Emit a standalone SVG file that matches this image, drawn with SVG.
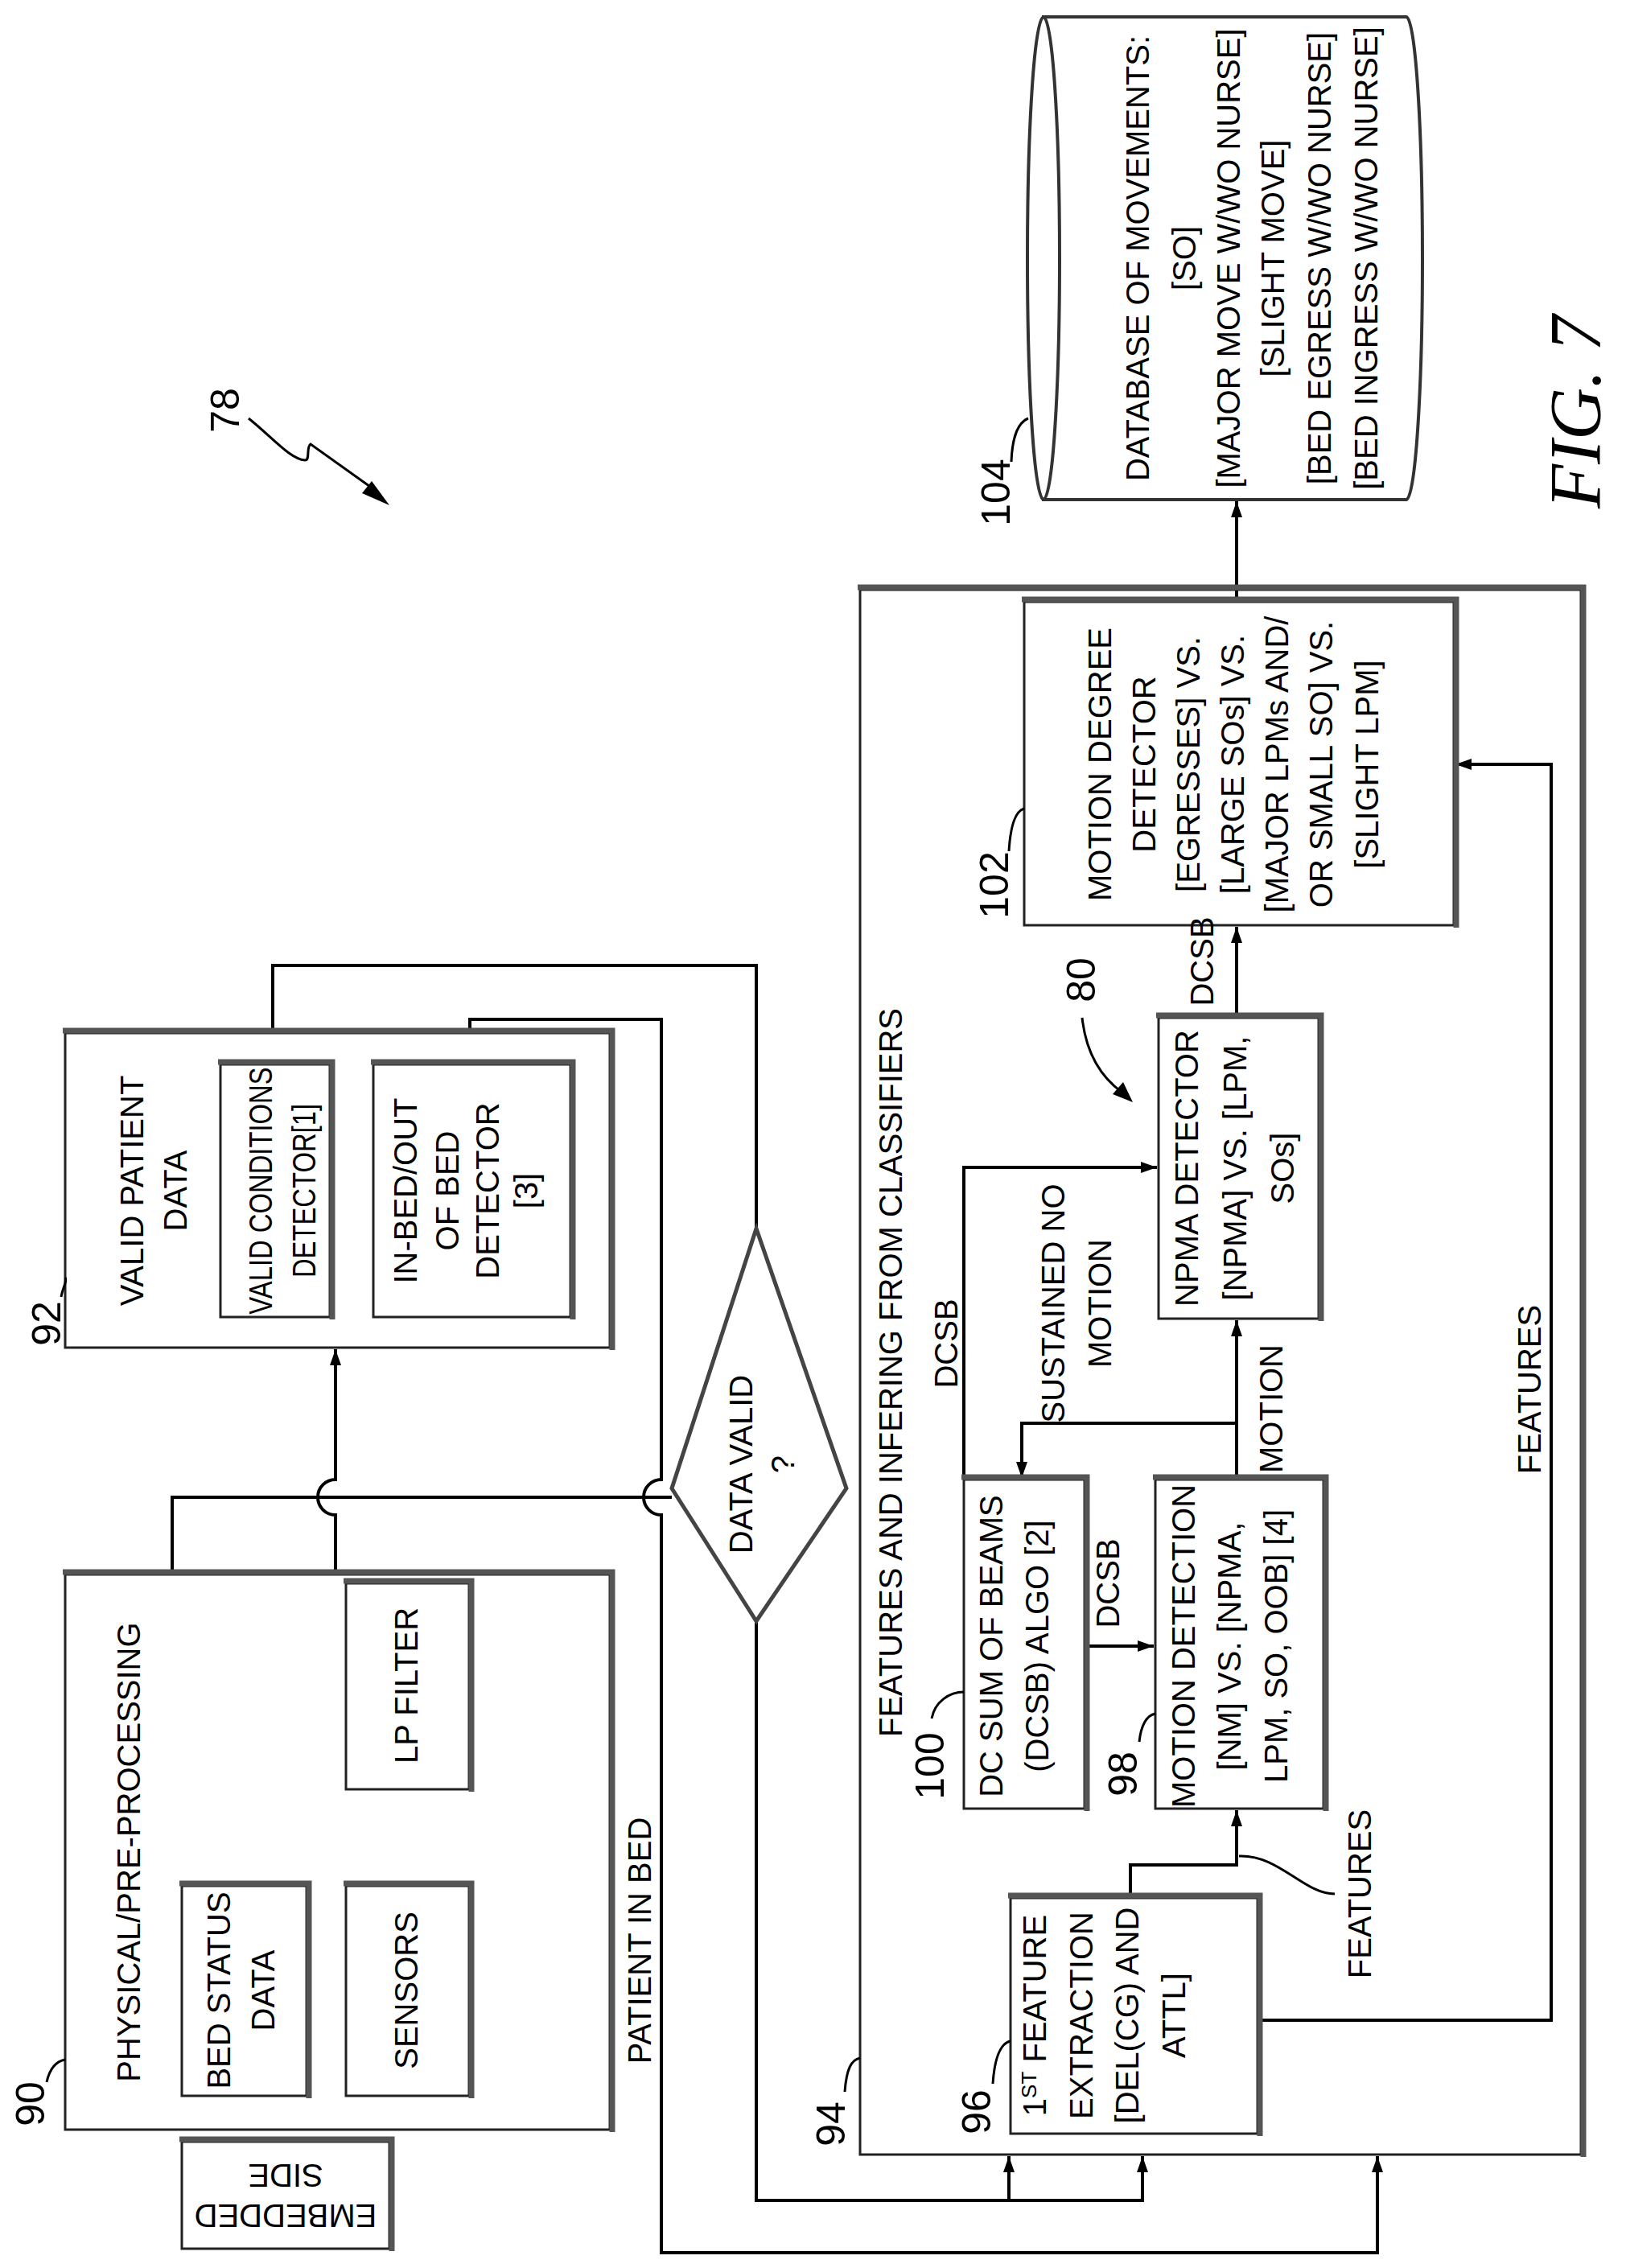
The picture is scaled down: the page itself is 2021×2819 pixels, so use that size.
<svg xmlns="http://www.w3.org/2000/svg" width="2021" height="2819" viewBox="0 0 2021 2819">
<style>
.t{font-family:"Liberation Sans",Arial,sans-serif;font-size:50px;fill:#000}
.s{font-family:"Liberation Sans",Arial,sans-serif;font-size:40px;fill:#000}
.b{fill:#fff;stroke:#222;stroke-width:3}
.sh{fill:none;stroke:#555;stroke-width:7}
.c{fill:none;stroke:#000;stroke-width:4}
.l{fill:none;stroke:#000;stroke-width:3}
</style>
<defs>
<marker id="a" viewBox="0 0 20 14" refX="20" refY="7" markerWidth="20" markerHeight="14" markerUnits="userSpaceOnUse" orient="auto"><path d="M0,0 L20,7 L0,14 Z" fill="#000"/></marker>
</defs>
<rect width="2021" height="2819" fill="#fff"/>
<g id="connectors">
<path class="c" d="M504,2344 V2224" marker-end="url(#a)"/>
<path class="c" d="M417,1957 V1883 a22,22 0 0 1 0,-44 V1677" marker-end="url(#a)"/>
<path class="c" d="M214,1957 V1861 H835"/>
<path class="c" d="M339,1323 V1200 H940 V1527"/>
<path class="c" d="M584,1323 V1267 H822 V1839 a22,22 0 0 0 0,44 V2800 H1712 V2680" marker-end="url(#a)"/>
<path class="c" d="M940,2015 V2735 H1420 V2680" marker-end="url(#a)"/>
<path class="c" d="M1254,2735 V2680" marker-end="url(#a)"/>
<path class="c" d="M1405,2359 V2318 H1537 V2250" marker-end="url(#a)"/>
<path class="c" d="M1348,2046 H1434" marker-end="url(#a)"/>
<path class="c" d="M1537,1839 V1641" marker-end="url(#a)"/>
<path class="c" d="M1537,1769 H1270 V1837" marker-end="url(#a)"/>
<path class="c" d="M1198,1839 V1451 H1438" marker-end="url(#a)"/>
<path class="c" d="M1537,1265 V1152" marker-end="url(#a)"/>
<path class="c" d="M1537,748 V623" marker-end="url(#a)"/>
<path class="c" d="M1563,2511 H1928 V950 H1809" marker-end="url(#a)"/>
<path class="l" d="M309,520 C340,545 360,570 379,572 C386,572 380,556 386,552 L470,612" />
<path d="M484,628 L450,613 L462,598 Z" fill="#000"/>
<path class="l" d="M1659,2354 C1620,2354 1590,2305 1540,2307"/>
<path class="l" d="M1345,1265 C1350,1310 1370,1340 1395,1358"/>
<path d="M1408,1370 L1383,1360 L1396,1345 Z" fill="#000"/>
</g>
<g id="n90"><rect class="b" x="81" y="1957" width="677" height="690"/><path class="sh" d="M78,1954 H761 V2650"/>
<text class="s" transform="translate(160,2302) rotate(-90)" text-anchor="middle" dominant-baseline="central">PHYSICAL/PRE-PROCESSING</text>
<text class="t" transform="translate(38,2615) rotate(-90)" text-anchor="middle" dominant-baseline="central">90</text>
<path class="l" d="M58,2588 C62,2570 70,2562 81,2560"/></g>
<g id="bedstatus"><rect class="b" x="226" y="2344" width="155" height="261"/><path class="sh" d="M223,2341 H384 V2608"/>
<text class="s" transform="translate(301,2474) rotate(-90)" text-anchor="middle"><tspan x="0" dy="-15">BED STATUS</tspan><tspan x="0" dy="55">DATA</tspan></text></g>
<g id="sensors"><rect class="b" x="430" y="2344" width="153" height="261"/><path class="sh" d="M427,2341 H586 V2608"/>
<text class="s" transform="translate(505,2474) rotate(-90)" text-anchor="middle" dominant-baseline="central">SENSORS</text></g>
<g id="lpfilter"><rect class="b" x="430" y="1968" width="153" height="256"/><path class="sh" d="M427,1965 H586 V2227"/>
<text class="s" transform="translate(505,2095) rotate(-90)" text-anchor="middle" dominant-baseline="central">LP FILTER</text></g>
<g id="embedded"><rect class="b" x="226" y="2662" width="258" height="133"/><path class="sh" d="M223,2659 H487 V2798"/>
<text class="s" transform="translate(355,2728) rotate(180)" text-anchor="middle"><tspan x="0" dy="-12">EMBEDDED</tspan><tspan x="0" dy="50">SIDE</tspan></text></g>
<g id="n92"><rect class="b" x="81" y="1284" width="677" height="391"/><path class="sh" d="M78,1281 H761 V1678"/>
<text class="s" transform="translate(190,1480) rotate(-90)" text-anchor="middle"><tspan x="0" dy="-12">VALID PATIENT</tspan><tspan x="0" dy="54">DATA</tspan></text>
<text class="t" transform="translate(58,1645) rotate(-90)" text-anchor="middle" dominant-baseline="central">92</text>
<path class="l" d="M76,1612 C78,1600 84,1592 81,1588"/></g>
<g id="validcond"><rect class="b" x="274" y="1323" width="136" height="314"/><path class="sh" d="M271,1320 H413 V1640"/>
<text class="s" transform="translate(350,1480) rotate(-90) scale(0.82,1)" text-anchor="middle"><tspan x="0" dy="-12">VALID CONDITIONS</tspan><tspan x="0" dy="54">DETECTOR[1]</tspan></text></g>
<g id="inbed"><rect class="b" x="464" y="1323" width="245" height="314"/><path class="sh" d="M461,1320 H712 V1640"/>
<text class="s" transform="translate(580,1480) rotate(-90)" text-anchor="middle"><tspan x="0" dy="-62">IN-BED/OUT</tspan><tspan x="0" dy="52">OF BED</tspan><tspan x="0" dy="50">DETECTOR</tspan><tspan x="0" dy="48">[3]</tspan></text></g>
<g id="datavalid"><path d="M940,1527 L1052,1850 L940,2015 L835,1850 Z" fill="#fff" stroke="#444" stroke-width="5"/>
<text class="s" transform="translate(940,1820) rotate(-90)" text-anchor="middle"><tspan x="0" dy="-5">DATA VALID</tspan><tspan x="0" dy="52">?</tspan></text></g>
<text class="s" transform="translate(795,2412) rotate(-90)" text-anchor="middle" dominant-baseline="central">PATIENT IN BED</text>
<g id="n94"><rect x="1069" y="733" width="896" height="1945" fill="none" stroke="#222" stroke-width="3"/><path class="sh" d="M1066,730 H1968 V2681"/>
<text class="s" transform="translate(1107,1706) rotate(-90)" text-anchor="middle" dominant-baseline="central">FEATURES AND INFERING FROM CLASSIFIERS</text>
<text class="t" transform="translate(1033,2640) rotate(-90)" text-anchor="middle" dominant-baseline="central">94</text>
<path class="l" d="M1050,2600 C1052,2572 1058,2560 1069,2558"/></g>
<g id="n96"><rect class="b" x="1256" y="2359" width="307" height="293"/><path class="sh" d="M1253,2356 H1566 V2655"/>
<text class="s" transform="translate(1300,2505) rotate(-90)" text-anchor="middle"><tspan x="0" dy="0">1<tspan font-size="26" dy="-12">ST</tspan><tspan dy="12"> FEATURE</tspan></tspan><tspan x="0" dy="58">EXTRACTION</tspan><tspan x="0" dy="57">[DEL(CG) AND</tspan><tspan x="0" dy="58">ATTL]</tspan></text>
<text class="t" transform="translate(1214,2625) rotate(-90)" text-anchor="middle" dominant-baseline="central">96</text>
<path class="l" d="M1234,2590 C1236,2560 1242,2540 1256,2537"/></g>
<g id="n98"><rect class="b" x="1436" y="1839" width="209" height="409"/><path class="sh" d="M1433,1836 H1648 V2251"/>
<text class="s" transform="translate(1527,2046) rotate(-90)" text-anchor="middle"><tspan x="0" dy="-42">MOTION DETECTION</tspan><tspan x="0" dy="57">[NM] VS. [NPMA,</tspan><tspan x="0" dy="58">LPM, SO, OOB] [4]</tspan></text>
<text class="t" transform="translate(1396,2205) rotate(-90)" text-anchor="middle" dominant-baseline="central">98</text>
<path class="l" d="M1416,2165 C1418,2145 1425,2132 1436,2130"/></g>
<g id="n100"><rect class="b" x="1198" y="1839" width="150" height="409"/><path class="sh" d="M1195,1836 H1351 V2251"/>
<text class="s" transform="translate(1262,2046) rotate(-90)" text-anchor="middle"><tspan x="0" dy="-16">DC SUM OF BEAMS</tspan><tspan x="0" dy="57">(DCSB) ALGO [2]</tspan></text>
<text class="t" transform="translate(1156,2195) rotate(-90)" text-anchor="middle" dominant-baseline="central">100</text>
<path class="l" d="M1158,2136 C1162,2115 1180,2103 1198,2103"/></g>
<g id="npma"><rect class="b" x="1440" y="1265" width="199" height="374"/><path class="sh" d="M1437,1262 H1642 V1642"/>
<text class="s" transform="translate(1534,1452) rotate(-90)" text-anchor="middle"><tspan x="0" dy="-45">NPMA DETECTOR</tspan><tspan x="0" dy="60">[NPMA] VS. [LPM,</tspan><tspan x="0" dy="59">SOs]</tspan></text>
<text class="t" transform="translate(1344,1218) rotate(-90)" text-anchor="middle" dominant-baseline="central">80</text></g>
<g id="n102"><rect class="b" x="1273" y="748" width="534" height="402"/><path class="sh" d="M1270,745 H1810 V1153"/>
<text class="s" transform="translate(1381,950) rotate(-90)" text-anchor="middle"><tspan x="0">MOTION DEGREE</tspan><tspan x="0" dy="55">DETECTOR</tspan><tspan x="0" dy="55">[EGRESSES] VS.</tspan><tspan x="0" dy="55">[LARGE SOs] VS.</tspan><tspan x="0" dy="55">[MAJOR LPMs AND/</tspan><tspan x="0" dy="55">OR SMALL SO] VS.</tspan><tspan x="0" dy="57">[SLIGHT LPM]</tspan></text>
<text class="t" transform="translate(1236,1100) rotate(-90)" text-anchor="middle" dominant-baseline="central">102</text>
<path class="l" d="M1254,1058 C1256,1025 1262,1008 1273,1005"/></g>
<g id="n104"><path d="M1297,21 H1748 A20,300 0 0 1 1748,621 H1297 Z" fill="#fff" stroke="#333" stroke-width="4"/><ellipse cx="1297" cy="321" rx="20" ry="300" fill="#fff" stroke="#333" stroke-width="4"/>
<text class="s" transform="translate(1428,321) rotate(-90)" text-anchor="middle"><tspan x="0">DATABASE OF MOVEMENTS:</tspan><tspan x="0" dy="58">[SO]</tspan><tspan x="0" dy="55">[MAJOR MOVE W/WO NURSE]</tspan><tspan x="0" dy="55">[SLIGHT MOVE]</tspan><tspan x="0" dy="58">[BED EGRESS W/WO NURSE]</tspan><tspan x="0" dy="58">[BED INGRESS W/WO NURSE]</tspan></text>
<text class="t" transform="translate(1238,612) rotate(-90)" text-anchor="middle" dominant-baseline="central">104</text>
<path class="l" d="M1257,574 C1258,545 1265,525 1278,520"/></g>
<text class="s" transform="translate(1690,2354) rotate(-90)" text-anchor="middle" dominant-baseline="central">FEATURES</text>
<text class="s" transform="translate(1901,1727) rotate(-90)" text-anchor="middle" dominant-baseline="central">FEATURES</text>
<text class="s" transform="translate(1377,1968) rotate(-90)" text-anchor="middle" dominant-baseline="central">DCSB</text>
<text class="s" transform="translate(1176,1670) rotate(-90)" text-anchor="middle" dominant-baseline="central">DCSB</text>
<text class="s" transform="translate(1494,1195) rotate(-90)" text-anchor="middle" dominant-baseline="central">DCSB</text>
<text class="s" transform="translate(1580,1751) rotate(-90)" text-anchor="middle" dominant-baseline="central">MOTION</text>
<text class="s" transform="translate(1313,1620) rotate(-90)" text-anchor="middle"><tspan x="0" dy="10">SUSTAINED NO</tspan><tspan x="0" dy="58">MOTION</tspan></text>
<text class="t" transform="translate(280,510) rotate(-90)" text-anchor="middle" dominant-baseline="central">78</text>
<text transform="translate(1958,512) rotate(-90)" text-anchor="middle" dominant-baseline="central" font-family="Liberation Serif,serif" font-style="italic" font-size="90">FIG. 7</text>
</svg>
